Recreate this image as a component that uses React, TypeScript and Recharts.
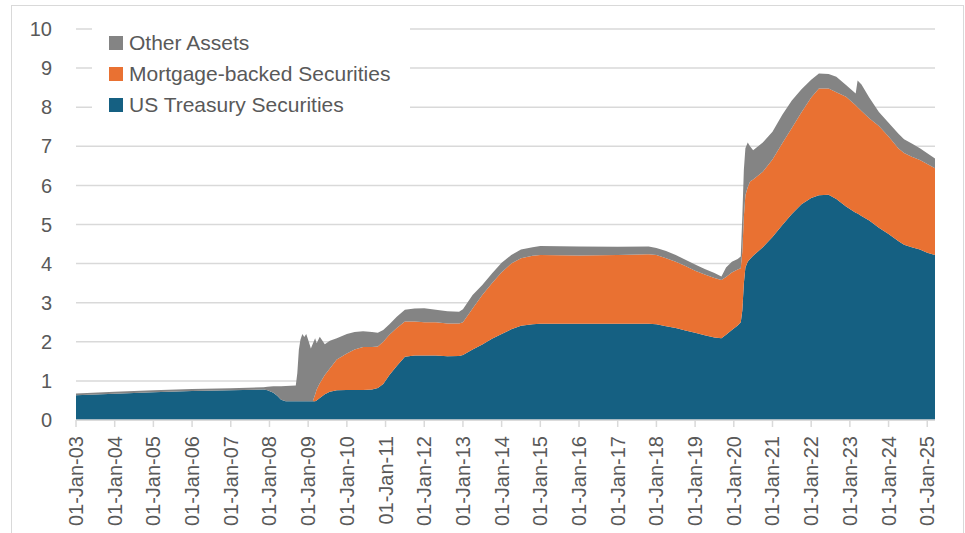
import React from 'react';
import { AreaChart, Area, XAxis, YAxis, CartesianGrid } from 'recharts';

// Decimal years (e.g. 2008.75 = early Oct 2008)
const dates = [
  2003.0, 2004.0, 2005.0, 2006.0, 2007.0, 2007.85, 2007.95, 2008.1, 2008.2, 2008.3,
  2008.42, 2008.68, 2008.72, 2008.76, 2008.8, 2008.85, 2008.9, 2008.95, 2009.0, 2009.07,
  2009.12, 2009.18, 2009.22, 2009.3, 2009.43, 2009.56, 2009.74, 2010.0, 2010.2, 2010.42,
  2010.65, 2010.8, 2010.94, 2011.1, 2011.29, 2011.5, 2011.75, 2012.0, 2012.3, 2012.6,
  2012.9, 2013.0, 2013.25, 2013.5, 2013.75, 2014.0, 2014.25, 2014.5, 2014.8, 2015.0,
  2016.0, 2017.0, 2017.8, 2018.0, 2018.25, 2018.5, 2018.75, 2019.0, 2019.25, 2019.5,
  2019.68, 2019.8, 2019.95, 2020.1, 2020.18, 2020.22, 2020.26, 2020.3, 2020.36, 2020.42,
  2020.5, 2020.75, 2021.0, 2021.25, 2021.5, 2021.75, 2022.0, 2022.2, 2022.45, 2022.65,
  2022.9, 2023.15, 2023.2, 2023.3, 2023.5, 2023.75, 2024.0, 2024.25, 2024.4, 2024.6,
  2024.81, 2025.0, 2025.2,
];

// US$ trillions
const treasury = [
  0.63, 0.67, 0.71, 0.74, 0.76, 0.78, 0.76, 0.7, 0.62, 0.52,
  0.48, 0.48, 0.48, 0.48, 0.48, 0.48, 0.48, 0.48, 0.48, 0.48,
  0.48, 0.48, 0.5, 0.56, 0.66, 0.72, 0.76, 0.77, 0.77, 0.77,
  0.78, 0.82, 0.92, 1.15, 1.38, 1.62, 1.65, 1.65, 1.65, 1.63,
  1.64, 1.66, 1.8, 1.93, 2.08, 2.2, 2.32, 2.41, 2.45, 2.46,
  2.46, 2.46, 2.46, 2.45, 2.4, 2.35, 2.29, 2.23, 2.17, 2.11,
  2.09, 2.18, 2.3, 2.42, 2.5, 2.8, 3.5, 3.9, 4.05, 4.12,
  4.2, 4.42, 4.68, 4.98, 5.27, 5.52, 5.68, 5.75, 5.76, 5.65,
  5.46, 5.3, 5.28, 5.22, 5.1, 4.92, 4.76, 4.58, 4.48, 4.42,
  4.36, 4.28, 4.22,
];

const mbs = [
  0, 0, 0, 0, 0, 0, 0, 0, 0, 0,
  0, 0, 0, 0, 0, 0, 0, 0, 0, 0,
  0, 0.17, 0.28, 0.38, 0.49, 0.6, 0.79, 0.93, 1.03, 1.1,
  1.09, 1.06, 1.08, 1.03, 0.97, 0.9, 0.87, 0.85, 0.85, 0.84,
  0.83, 0.84, 1.05, 1.27, 1.42, 1.58, 1.68, 1.73, 1.75, 1.76,
  1.75, 1.76, 1.78, 1.77, 1.74, 1.7, 1.65, 1.59, 1.55, 1.52,
  1.49, 1.48, 1.47, 1.43, 1.38, 1.5, 1.7, 1.85, 1.9, 1.98,
  1.95, 1.93, 1.98, 2.09, 2.2, 2.35, 2.57, 2.73, 2.72, 2.73,
  2.81, 2.75, 2.72, 2.68, 2.62, 2.6, 2.49, 2.37, 2.35, 2.31,
  2.29, 2.27, 2.22,
];

const other = [
  0.05, 0.05, 0.05, 0.05, 0.05, 0.06, 0.09, 0.16, 0.24, 0.34,
  0.39, 0.4, 0.72, 1.32, 1.57, 1.72, 1.64, 1.72, 1.57, 1.35,
  1.47, 1.44, 1.18, 1.19, 0.79, 0.71, 0.54, 0.5, 0.45, 0.4,
  0.38, 0.35, 0.3, 0.27, 0.29, 0.3, 0.33, 0.36, 0.32, 0.31,
  0.3, 0.33, 0.35, 0.25, 0.25, 0.24, 0.22, 0.22, 0.22, 0.23,
  0.23, 0.21, 0.2, 0.18, 0.18, 0.17, 0.16, 0.16, 0.14, 0.13,
  0.09, 0.24, 0.28, 0.27, 0.3, 0.9, 1.2, 1.2, 1.15, 0.9,
  0.75, 0.75, 0.71, 0.73, 0.7, 0.59, 0.45, 0.38, 0.37, 0.4,
  0.3, 0.3, 0.68, 0.68, 0.53, 0.36, 0.35, 0.38, 0.35, 0.34,
  0.3, 0.27, 0.25,
];

const yearTicks = [
  2003, 2004, 2005, 2006, 2007, 2008, 2009, 2010, 2011, 2012, 2013, 2014,
  2015, 2016, 2017, 2018, 2019, 2020, 2021, 2022, 2023, 2024, 2025,
];
const tickLabels = [
  '01-Jan-03', '01-Jan-04', '01-Jan-05', '01-Jan-06', '01-Jan-07', '01-Jan-08',
  '01-Jan-09', '01-Jan-10', '01-Jan-11', '01-Jan-12', '01-Jan-13', '01-Jan-14',
  '01-Jan-15', '01-Jan-16', '01-Jan-17', '01-Jan-18', '01-Jan-19', '01-Jan-20',
  '01-Jan-21', '01-Jan-22', '01-Jan-23', '01-Jan-24', '01-Jan-25',
];
const yTicks = [0, 1, 2, 3, 4, 5, 6, 7, 8, 9, 10];

const seriesKeys = ['treasury', 'mbs', 'other'];
const seriesNames = ['US Treasury Securities', 'Mortgage-backed Securities', 'Other Assets'];
const seriesColors = ['#156082', '#E97132', '#848484'];

const data = dates.map((d, i) => ({
  date: d,
  treasury: treasury[i],
  mbs: mbs[i],
  other: other[i],
}));

const FONT = '"Liberation Sans", Arial, sans-serif';
const TEXT = '#595959';

const XTick = (props: any) => {
  const { x, y, payload } = props;
  const i = yearTicks.indexOf(payload.value);
  return (
    <g transform={`translate(${x},${y + 7})`}>
      <text
        transform="rotate(-90)"
        x={0}
        y={0}
        dy="0.35em"
        textAnchor="end"
        fill={TEXT}
        fontSize={20}
        fontFamily={FONT}
      >
        {tickLabels[i]}
      </text>
    </g>
  );
};

export default function App() {
  const legendOrder = [2, 1, 0];
  return (
    <div
      style={{
        position: 'absolute',
        left: 0,
        top: 0,
        width: 965,
        height: 533,
        background: '#fff',
        overflow: 'hidden',
      }}
    >
      <div
        style={{
          position: 'absolute',
          left: 11,
          top: 5,
          width: 953,
          height: 600,
          boxSizing: 'border-box',
          border: '1px solid #d9d9d9',
        }}
      />
      <div style={{ position: 'absolute', left: 0, top: 0 }}>
        <AreaChart
          width={965}
          height={533}
          data={data}
          margin={{ top: 29, right: 30, bottom: 0, left: 0 }}
        >
          <CartesianGrid vertical={false} stroke="#d9d9d9" strokeWidth={1.5} />
          <XAxis
            dataKey="date"
            type="number"
            domain={[2003, 2025.2]}
            ticks={yearTicks}
            interval={0}
            allowDataOverflow
            height={113}
            axisLine={{ stroke: '#d9d9d9', strokeWidth: 1.5 }}
            tickLine={{ stroke: '#d9d9d9', strokeWidth: 1.5 }}
            tickSize={7}
            tick={<XTick />}
          />
          <YAxis
            domain={[0, 10]}
            ticks={yTicks}
            interval={0}
            width={76}
            axisLine={false}
            tickLine={false}
            tickMargin={18}
            tick={{ fill: TEXT, fontSize: 20, fontFamily: FONT }}
          />
          {seriesKeys.map((k, i) => (
            <Area
              key={k}
              type="linear"
              dataKey={k}
              name={seriesNames[i]}
              stackId="1"
              stroke="none"
              fill={seriesColors[i]}
              fillOpacity={1}
              isAnimationActive={false}
            />
          ))}
        </AreaChart>
      </div>
      <div
        style={{
          position: 'absolute',
          left: 92,
          top: 26,
          width: 318,
          height: 95,
          background: '#fff',
        }}
      />
      {legendOrder.map((si, row) => (
        <div
          key={si}
          style={{
            position: 'absolute',
            left: 109,
            top: 27.5 + row * 31,
            height: 31,
            display: 'flex',
            alignItems: 'center',
            fontFamily: FONT,
            fontSize: 21,
            color: TEXT,
            whiteSpace: 'nowrap',
          }}
        >
          <span
            style={{
              display: 'inline-block',
              width: 14,
              height: 14,
              background: seriesColors[si],
              marginRight: 6,
            }}
          />
          <span>{seriesNames[si]}</span>
        </div>
      ))}
    </div>
  );
}
